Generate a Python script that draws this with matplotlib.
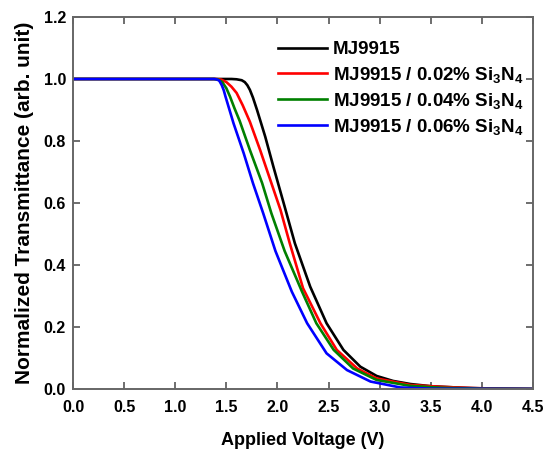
#!/usr/bin/env python

import numpy as np
import matplotlib
matplotlib.use('Agg')
import matplotlib.pyplot as plt

# Data
labels = ['MJ9915','MJ9915 / 0.02% Si$_3$N$_4$','MJ9915 / 0.04% Si$_3$N$_4$','MJ9915 / 0.06% Si$_3$N$_4$']
colors = ['black','red','green','blue']

v_black = [0.0,1.0,1.55,1.60,1.65,1.68,1.705,1.73,1.76,1.80,1.88,1.96,2.06,2.17,2.32,2.48,2.645,2.81,2.97,3.13,3.30,3.50,3.80,4.10,4.50]
t_black = [1.0,1.0,1.0,0.999,0.996,0.99,0.98,0.965,0.94,0.90,0.814,0.717,0.60,0.47,0.33,0.212,0.126,0.072,0.042,0.026,0.016,0.009,0.004,0.001,0.0]

v_red = [0.0,1.0,1.40,1.45,1.50,1.55,1.60,1.66,1.73,1.83,1.93,2.03,2.12,2.25,2.42,2.58,2.78,2.97,3.30,3.60,3.90,4.20,4.50]
t_red = [1.0,1.0,1.0,0.998,0.99,0.975,0.955,0.915,0.862,0.771,0.674,0.577,0.47,0.325,0.212,0.126,0.066,0.034,0.013,0.007,0.003,0.001,0.0]

v_green = [0.0,1.0,1.38,1.42,1.46,1.50,1.536,1.58,1.63,1.73,1.85,1.94,2.07,2.24,2.38,2.55,2.74,2.97,3.30,3.60,4.00,4.50]
t_green = [1.0,1.0,1.0,0.998,0.99,0.97,0.943,0.905,0.865,0.771,0.664,0.567,0.445,0.314,0.212,0.126,0.066,0.029,0.010,0.004,0.001,0.0]

v_blue = [0.0,1.0,1.38,1.40,1.43,1.455,1.475,1.49,1.57,1.67,1.76,1.86,1.98,2.14,2.29,2.48,2.68,2.91,3.20,3.50,4.50]
t_blue = [1.0,1.0,1.0,0.999,0.995,0.98,0.963,0.945,0.857,0.76,0.664,0.567,0.445,0.314,0.212,0.115,0.061,0.024,0.005,0.001,0.0]

xticks = [0.0,0.5,1.0,1.5,2.0,2.5,3.0,3.5,4.0,4.5]
yticks = [0.0,0.2,0.4,0.6,0.8,1.0,1.2]

def plot(path='out.png'):

	plt.rcParams['font.family'] = ['Liberation Sans','DejaVu Sans']
	plt.rcParams['font.weight'] = 'bold'
	plt.rcParams['mathtext.fontset'] = 'custom'
	plt.rcParams['mathtext.bf'] = 'Liberation Sans:bold'
	plt.rcParams['mathtext.rm'] = 'Liberation Sans:bold'
	plt.rcParams['mathtext.default'] = 'bf'

	fig = plt.figure(figsize=(5.51,4.53),dpi=100)
	ax = fig.add_axes([0.1325,0.1413,0.835,0.8212])

	series = [(v_black,t_black),(v_red,t_red),(v_green,t_green),(v_blue,t_blue)]
	for (v,t),c,l in zip(series,colors,labels):
		ax.plot(v,t,color=c,lw=1.9,label=l,solid_joinstyle='round')

	ax.set_xlim(0,4.5)
	ax.set_ylim(0,1.2)
	ax.set_xticks(xticks)
	ax.set_yticks(yticks)
	ax.set_xticklabels(['%.1f'%i for i in xticks])
	ax.set_yticklabels(['%.1f'%i for i in yticks])
	ax.tick_params(direction='in',top=True,right=True,length=5,width=1.2,colors='#555555',labelcolor='black',labelsize=11.5)
	ax.tick_params(axis='x',pad=8)
	ax.tick_params(axis='y',pad=5)
	for s in ax.spines.values():
		s.set_color('#666666')
		s.set_linewidth(1.4)

	ax.set_xlabel('Applied Voltage (V)',fontsize=13,fontweight='bold',labelpad=12)
	ax.set_ylabel('Normalized Transmittance (arb. unit)',fontsize=15,fontweight='bold',labelpad=7)

	ax.legend(loc='upper left',bbox_to_anchor=(0.43,0.955),frameon=False,fontsize=13.5,handlelength=2.6,handletextpad=0.3,labelspacing=0.33,borderaxespad=0.0)

	fig.savefig(path,dpi=100)

	return

if __name__ == "__main__":
	plot()
